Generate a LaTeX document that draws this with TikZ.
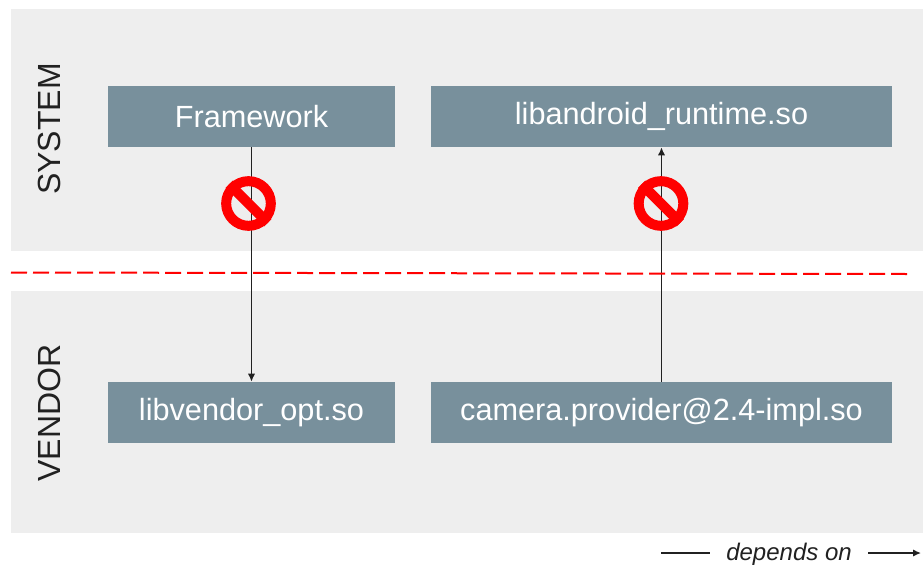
\documentclass[tikz,border=0pt]{standalone}
\usepackage{fontspec}
\setmainfont{Liberation Sans}
\definecolor{bandgray}{HTML}{EEEEEE}
\definecolor{boxslate}{HTML}{78909C}
\definecolor{inkdark}{HTML}{212121}
\tikzset{
	band/.style={fill=bandgray,draw=none,minimum width=912*0.75pt,minimum height=242*0.75pt,inner sep=0pt,anchor=north west},
	libbox/.style={fill=boxslate,text=white,minimum height=61*0.75pt,inner sep=0pt,font=\fontsize{23}{23}\selectfont},
	side/.style={rotate=90,text=inkdark,inner sep=0pt,font=\fontsize{24}{24}\selectfont},
	dep/.style={draw=inkdark,line width=1.1pt,-{Latex[length=6pt,width=5.5pt]}},
	nosign/.style={circle,draw=red,line width=7.5pt,minimum size=33.5pt,inner sep=0pt},
}
\usetikzlibrary{arrows.meta}
\begin{document}
\begin{tikzpicture}[x=0.75pt,y=-0.75pt]
	\useasboundingbox (0,0) rectangle (923,567);
	\node[band] (system) at (11,9) {};
	\node[band] (vendor) at (11,291) {};
	\node[side] (systemlabel) at (49,129) {SYSTEM};
	\node[side] (vendorlabel) at (49,413) {VENDOR};

	\node[libbox,minimum width=287*0.75pt] (framework) at (251.5,116.5) {Framework};
	\node[libbox,minimum width=461*0.75pt] (runtime) at (661.5,116.5) {libandroid\_runtime.so};
	\node[libbox,minimum width=287*0.75pt] (vendoropt) at (251.5,412.5) {libvendor\_opt.so};
	\node[libbox,minimum width=461*0.75pt] (provider) at (661.5,412.5) {camera.provider@2.4-impl.so};

	\draw[dep] (framework) -- (vendoropt);
	\draw[dep] (provider) -- (runtime);

	\coordinate (splitleft) at (11,272.5);
	\coordinate (splitright) at (907,274);
	\draw[red,line width=1.5pt,dash pattern=on 12pt off 4.5pt] (splitleft) -- (splitright);

	\foreach \name/\x in {noleft/248.5,noright/661}
	{
		\node[nosign] (\name) at (\x,203.5) {};
		\draw[red,line width=7.5pt] (\name.north west) -- (\name.south east);
	}

	\node[inner xsep=12pt,inner ysep=0pt,text=inkdark,font=\itshape\fontsize{18}{18}\selectfont] (legend) at (789,554) {depends on};
	\coordinate (legendstart) at (661,553);
	\coordinate (legendend) at (921,553);
	\draw[draw=inkdark,line width=1.1pt] (legendstart) -- (legendstart -| legend.west);
	\draw[dep] (legendend -| legend.east) -- (legendend);
\end{tikzpicture}
\end{document}
